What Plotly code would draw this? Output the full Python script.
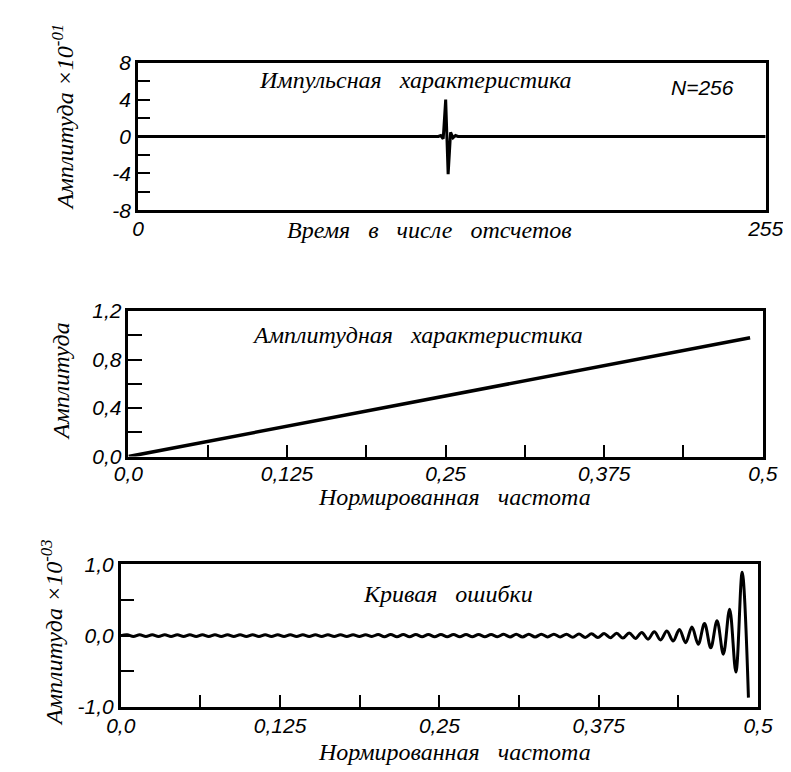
import numpy as np
import plotly.graph_objects as go

# ---------------- data ----------------
# Impulse response (units x10^-1), 256 samples
n_samples = list(range(256))
impulse_center = [0.1, -0.25, 4.0, -4.1, 0.45, -0.15, 0.1]   # samples 123..129
impulse = [0.0] * 123 + impulse_center + [0.0] * (256 - 123 - len(impulse_center))

# Amplitude response
amp_freq = [0.0, 0.125, 0.25, 0.375, 0.49]
amp_vals = [0.0, 0.25, 0.5, 0.75, 0.98]

# Error curve (units x10^-3): successive ripple extrema
err_vals = [
    0.012, -0.012, 0.012, -0.012, 0.012, -0.012, 0.012, -0.012, 0.012, -0.012,
    0.012, -0.012, 0.012, -0.012, 0.012, -0.012, 0.012, -0.012, 0.012, -0.012,
    0.012, -0.012, 0.012, -0.012, 0.012, -0.012, 0.012, -0.012, 0.012, -0.012,
    0.012, -0.012, 0.012, -0.012, 0.012, -0.012, 0.012, -0.012, 0.012, -0.012,
    0.015, -0.015, 0.015, -0.015, 0.015, -0.015, 0.015, -0.015, 0.015, -0.015,
    0.015, -0.015, 0.015, -0.015, 0.015, -0.015, 0.015, -0.015, 0.015, -0.015,
    0.018, -0.018, 0.018, -0.018, 0.018, -0.018, 0.018, -0.018, 0.02, -0.02,
    0.02, -0.022, 0.022, -0.025, 0.025, -0.028, 0.028, -0.03, 0.032,
    -0.035, 0.038, -0.04, 0.045, -0.05, 0.055, -0.06, 0.065, -0.075, 0.085,
    -0.10, 0.12, -0.12, 0.17, -0.17, 0.21, -0.26, 0.37, -0.51, 0.89, -0.87,
]
err_freq = [0.0] + list(np.linspace(0.005, 0.4925, len(err_vals)))
err_plot = [0.0] + err_vals

# Tick labels
imp_yvals = [-8, -6, -4, -2, 0, 2, 4, 6, 8]
imp_ytext = ["-8", "", "-4", "", "0", "", "4", "", "8"]
imp_xvals = [0, 255]
imp_xtext = ["0", "255"]
freq_vals = [0, 0.0625, 0.125, 0.1875, 0.25, 0.3125, 0.375, 0.4375, 0.5]
freq_text = ["0,0", "", "0,125", "", "0,25", "", "0,375", "", "0,5"]
amp_yvals = [0, 0.2, 0.4, 0.6, 0.8, 1.0, 1.2]
amp_ytext = ["0,0", "", "0,4", "", "0,8", "", "1,2"]
err_yvals = [-1.0, -0.5, 0.0, 0.5, 1.0]
err_ytext = ["-1,0", "", "0,0", "", "1,0"]

# ---------------- figure ----------------
W, H = 791, 772
TFONT = "Liberation Serif"
NFONT = "Liberation Sans"
tickfont = dict(family=NFONT, size=21, color="black", style="italic")

fig = go.Figure()
fig.add_trace(go.Scatter(x=n_samples, y=impulse, mode="lines",
                         line=dict(color="black", width=3), xaxis="x", yaxis="y",
                         showlegend=False))
fig.add_trace(go.Scatter(x=amp_freq, y=amp_vals, mode="lines",
                         line=dict(color="black", width=3.5), xaxis="x2", yaxis="y2",
                         showlegend=False))
fig.add_trace(go.Scatter(x=err_freq, y=err_plot, mode="lines",
                         line=dict(color="black", width=3, shape="spline"),
                         xaxis="x3", yaxis="y3", showlegend=False))

def px(x):
    return x / W

def py(y):
    return 1 - y / H

common = dict(showgrid=False, zeroline=False, showline=True, linecolor="black",
              linewidth=2.5, mirror=True, tickfont=tickfont, tickcolor="black",
              tickwidth=2)

layout = dict(
    width=W, height=H, margin=dict(l=0, r=0, t=0, b=0),
    paper_bgcolor="white", plot_bgcolor="white",
    xaxis=dict(domain=[px(120), px(775)], range=[0, 255], tickvals=imp_xvals,
               ticktext=imp_xtext, ticks="", ticklabelstandoff=-2, anchor="y", **common),
    yaxis=dict(domain=[py(196), py(44)], range=[-8, 8], tickvals=imp_yvals,
               ticktext=imp_ytext, ticks="inside", ticklen=12, anchor="x", **common),
    xaxis2=dict(domain=[px(110), px(772)], range=[0, 0.5], tickvals=freq_vals,
                ticktext=freq_text, ticks="inside", ticklen=12, ticklabelstandoff=-4,
                anchor="y2", **common),
    yaxis2=dict(domain=[py(450), py(300)], range=[0, 1.2], tickvals=amp_yvals,
                ticktext=amp_ytext, ticks="inside", ticklen=14, anchor="x2", **common),
    xaxis3=dict(domain=[px(102), px(767)], range=[0, 0.5], tickvals=freq_vals,
                ticktext=freq_text, ticks="inside", ticklen=12, ticklabelstandoff=-2,
                anchor="y3", **common),
    yaxis3=dict(domain=[py(708), py(561)], range=[-1, 1], tickvals=err_yvals,
                ticktext=err_ytext, ticks="inside", ticklen=14, anchor="x3", **common),
)
fig.update_layout(**layout)

tfont = dict(family=TFONT, size=24, color="black", style="italic")
nfont = dict(family=NFONT, size=21, color="black", style="italic")
annos = [
    ("Импульсная   характеристика", 410, 62, 0, tfont),
    ("N=256", 709, 70, 0, nfont),
    ("Время   в   числе   отсчетов", 424, 216, 0, tfont),
    ("Амплитуда ×10<sup>-01</sup>", 42, 100, -90, tfont),
    ("Амплитудная   характеристика", 412, 325, 0, tfont),
    ("Амплитуда", 40, 372, -90, tfont),
    ("Нормированная   частота", 450, 492, 0, tfont),
    ("Кривая   ошибки", 443, 592, 0, tfont),
    ("Амплитуда ×10<sup>-03</sup>", 30, 632, -90, tfont),
    ("Нормированная   частота", 450, 754, 0, tfont),
]
for text, x, y, ang, f in annos:
    fig.add_annotation(text=text, x=px(x), y=py(y), xref="paper", yref="paper",
                       showarrow=False, textangle=ang, font=f,
                       xanchor="center", yanchor="middle")

fig.write_html("out.html")
